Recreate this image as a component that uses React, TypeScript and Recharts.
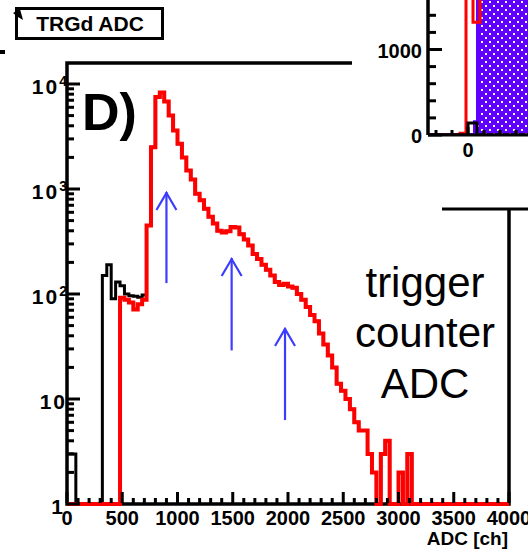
import React from 'react';
import { ComposedChart, Line, Area, XAxis, YAxis, ReferenceLine } from 'recharts';

// ---------- main histogram data (40 ADC channels per bin, bins start at 0) ----------
const BIN_WIDTH = 40;
const X_MAX = 4000;
const Y_MIN = 1;
const Y_MAX = 15849;

// red histogram counts, 100 bins of 40 ch from 0 to 4000
const redCounts = [
  0, 0, 0, 0, 0, 0, 0, 0, 0, 0, 0, 0,
  92, 88, 83, 71, 80, 88,
  450, 2500, 7500, 8300, 6800, 5000, 3600, 2700, 2000, 1500, 1230, 900,
  780, 650, 545, 470, 400, 385, 395, 435, 430, 370,
  330, 290, 240, 215, 190, 170, 150, 130, 122, 125,
  118, 115, 100, 88, 75, 63, 55, 42, 33, 26,
  20, 14, 12, 10, 8, 6, 5, 5, 3, 2,
  0, 3, 4, 0, 0, 2, 0, 3, 0,
  0, 0, 0, 0, 0, 0, 0, 0, 0, 0, 0, 0, 0, 0, 0, 0, 0, 0, 0, 0, 0,
];
// black histogram counts for the first 18 bins; above 720 ch it coincides with red
const blackCountsLow = [3, 3, 0, 0, 0, 0, 0, 0, 150, 190, 90, 130, 120, 100, 96, 95, 93, 98];

const xMinorStep = 100;
const yDecades = [1, 10, 100, 1000, 10000];

// arrows: channel, bottom value, tip value
const arrows = [
  { ch: 900, from: 127, to: 936 },
  { ch: 1490, from: 29, to: 220 },
  { ch: 1973, from: 6.3, to: 47.5 },
];

// ---------- inset data ----------
const insetX = [-40, -8, -2, 0, 5, 7, 9, 10, 12, 60];
const insetRed = [0, 20, 2500, 2500, 1320, 1320, 1320, 1320, 2500, 2500];
const insetBlack = [0, 0, 0, 140, 140, 140, 0, 0, 0, 0];
const insetPurple = [0, 0, 0, 0, 0, 150, 150, 2500, 2500, 2500];
const insetYTicks = [0, 200, 400, 600, 800, 1000, 1200, 1400];
const insetXTicks = [-32, -16, 0, 16, 32, 48];
const INSET_Y_MAX = 1579;

// ---------- derived tables ----------
const mainData = redCounts.map((r, i) => ({
  ch: i * BIN_WIDTH,
  red: Math.max(r, Y_MIN),
  black: Math.max(i < blackCountsLow.length ? blackCountsLow[i] : r, Y_MIN),
}));
mainData.push({ ch: X_MAX, red: mainData[mainData.length - 1].red, black: mainData[mainData.length - 1].black });

const xTicks: number[] = [];
for (let v = 0; v <= X_MAX; v += xMinorStep) xTicks.push(v);
const yTicks: number[] = [];
yDecades.forEach((d) => {
  for (let m = 1; m <= 9; m++) {
    const v = d * m;
    if (v <= Y_MAX) yTicks.push(v);
  }
});

const insetData = insetX.map((x, i) => ({ x, red: insetRed[i], black: insetBlack[i], purple: insetPurple[i] }));

const FONT = '"Liberation Sans", Arial, Helvetica, sans-serif';
const RED = '#ff0000';
const PURPLE = '#6000ff';
const ARROW = '#3c3cff';
const PLOT_LEFT = 67;
const PLOT_RIGHT = 509;
const PLOT_TOP = 63;
const PLOT_BOTTOM = 504;

const MainYTick = (props: any) => {
  const { y, payload } = props;
  const v = payload.value as number;
  const exp = Math.round(Math.log10(v));
  const major = Math.abs(Math.pow(10, exp) - v) < 1e-6;
  let label: React.ReactNode = null;
  if (major) {
    if (exp === 0) label = '1';
    else if (exp === 1) label = '10';
    else
      label = (
        <>
          10
          <tspan dy={-8} fontSize={14} letterSpacing={0}>
            {exp}
          </tspan>
        </>
      );
  }
  return (
    <g>
      <line x1={PLOT_LEFT} x2={PLOT_LEFT + (major ? 13 : 7)} y1={y} y2={y} stroke="#000" strokeWidth={3} />
      {major && (
        <text
          x={exp === 0 ? 63 : 67}
          y={y + 10}
          textAnchor="end"
          fontFamily={FONT}
          fontWeight="bold"
          fontSize={21}
          letterSpacing={exp === 0 ? 0 : 2}
          fill="#000"
        >
          {label}
        </text>
      )}
    </g>
  );
};

const MainXTick = (props: any) => {
  const { x, payload } = props;
  const v = payload.value as number;
  const major = v % 500 === 0;
  return (
    <g>
      <line x1={x} x2={x} y1={PLOT_BOTTOM - 1} y2={PLOT_BOTTOM - (major ? 12 : 6)} stroke="#000" strokeWidth={3} />
      {major && (
        <text x={x} y={525} textAnchor="middle" fontFamily={FONT} fontWeight="bold" fontSize={20} fill="#000">
          {v}
        </text>
      )}
    </g>
  );
};

const InsetYTick = (props: any) => {
  const { y, payload } = props;
  const v = payload.value as number;
  const major = v % 1000 === 0;
  return (
    <g>
      <line x1={76} x2={76 + (major ? 14 : 8)} y1={y} y2={y} stroke="#000" strokeWidth={3} />
      {major && (
        <text x={70} y={y + 8} textAnchor="end" fontFamily={FONT} fontWeight="bold" fontSize={20} fill="#000">
          {v}
        </text>
      )}
    </g>
  );
};

const InsetXTick = (props: any) => {
  const { x, payload } = props;
  const v = payload.value as number;
  const major = v === 0;
  return (
    <g>
      <line x1={x} x2={x} y1={135} y2={135 - (major ? 8 : 5)} stroke="#000" strokeWidth={3} />
      {major && (
        <text x={x} y={157} textAnchor="middle" fontFamily={FONT} fontWeight="bold" fontSize={20} fill="#000">
          {v}
        </text>
      )}
    </g>
  );
};

const ArrowShape = (p: any) => {
  const { x1, y1, x2, y2 } = p;
  if (x1 == null || y2 == null) return <g />;
  return (
    <g>
      <line x1={x1} y1={y1} x2={x2} y2={y2} stroke={ARROW} strokeWidth={2.2} />
      <polyline
        points={`${x2 - 10},${y2 + 18} ${x2},${y2 + 1} ${x2 + 10},${y2 + 18}`}
        fill="none"
        stroke={ARROW}
        strokeWidth={2.2}
      />
    </g>
  );
};

export default function App() {
  return (
    <div
      style={{
        position: 'absolute',
        left: 0,
        top: 0,
        width: 528,
        height: 550,
        overflow: 'hidden',
        background: '#fff',
        fontFamily: FONT,
      }}
    >
      <svg width={0} height={0} style={{ position: 'absolute' }}>
        <defs>
          <pattern id="purpleDots" width={8} height={8} patternUnits="userSpaceOnUse">
            <rect width={8} height={8} fill={PURPLE} />
            <rect x={1} y={1} width={2} height={2} fill="#fff" />
            <rect x={5} y={5} width={2} height={2} fill="#fff" />
          </pattern>
        </defs>
      </svg>

      {/* frame of the main pad, drawn behind the histograms */}
      <svg width={528} height={550} style={{ position: 'absolute', left: 0, top: 0 }}>
        <rect
          x={PLOT_LEFT}
          y={PLOT_TOP}
          width={PLOT_RIGHT - PLOT_LEFT}
          height={PLOT_BOTTOM - PLOT_TOP}
          fill="none"
          stroke="#000"
          strokeWidth={3.5}
        />
      </svg>

      {/* main chart */}
      <div style={{ position: 'absolute', left: 0, top: 0 }}>
        <ComposedChart width={528} height={550} data={mainData} margin={{ top: 63, right: 19, bottom: 0, left: 0 }}>
          <XAxis
            dataKey="ch"
            type="number"
            domain={[0, X_MAX]}
            ticks={xTicks}
            interval={0}
            height={46}
            axisLine={false}
            tickLine={false}
            tick={<MainXTick />}
          />
          <YAxis
            type="number"
            scale="log"
            domain={[Y_MIN, Y_MAX]}
            ticks={yTicks}
            interval={0}
            width={67}
            axisLine={false}
            tickLine={false}
            tick={<MainYTick />}
          />
          <Line
            type="stepAfter"
            dataKey="black"
            stroke="#000"
            strokeWidth={3}
            dot={false}
            activeDot={false}
            isAnimationActive={false}
          />
          <Line
            type="stepAfter"
            dataKey="red"
            stroke={RED}
            strokeWidth={4}
            dot={false}
            activeDot={false}
            isAnimationActive={false}
          />
          {arrows.map((a, i) => (
            <ReferenceLine
              key={i}
              segment={[
                { x: a.ch, y: a.from },
                { x: a.ch, y: a.to },
              ]}
              stroke={ARROW}
              ifOverflow="visible"
              shape={ArrowShape}
            />
          ))}
        </ComposedChart>
      </div>

      {/* inset */}
      <div style={{ position: 'absolute', left: 352, top: 0, width: 176, height: 209, background: '#fff' }}>
        <ComposedChart width={176} height={209} data={insetData} margin={{ top: 0, right: 0, bottom: 0, left: 0 }}>
          <XAxis
            dataKey="x"
            type="number"
            domain={[-40, 60]}
            ticks={insetXTicks}
            interval={0}
            height={74}
            allowDataOverflow
            axisLine={{ stroke: '#000', strokeWidth: 3 }}
            tickLine={false}
            tick={<InsetXTick />}
          />
          <YAxis
            type="number"
            domain={[0, INSET_Y_MAX]}
            ticks={insetYTicks}
            interval={0}
            width={76}
            allowDataOverflow
            axisLine={{ stroke: '#000', strokeWidth: 3.5 }}
            tickLine={false}
            tick={<InsetYTick />}
          />
          <Line
            type="stepAfter"
            dataKey="red"
            stroke={RED}
            strokeWidth={3}
            dot={false}
            activeDot={false}
            isAnimationActive={false}
          />
          <Line
            type="stepAfter"
            dataKey="black"
            stroke="#000"
            strokeWidth={3}
            dot={false}
            activeDot={false}
            isAnimationActive={false}
          />
          <Area
            type="stepAfter"
            dataKey="purple"
            stroke={PURPLE}
            strokeWidth={4}
            fill="url(#purpleDots)"
            fillOpacity={1}
            dot={false}
            activeDot={false}
            isAnimationActive={false}
          />
        </ComposedChart>
      </div>

      {/* annotations */}
      <svg
        width={528}
        height={550}
        style={{ position: 'absolute', left: 0, top: 0, pointerEvents: 'none' }}
        fontFamily={FONT}
      >
        <rect x={16.5} y={8.5} width={146} height={30} fill="#fff" stroke="#000" strokeWidth={3} />
        <polygon points="13,13 20,9 23,20 18,17" fill="#000" />
        <text x={90} y={31} textAnchor="middle" fontWeight="bold" fontSize={21} fill="#000">
          TRGd ADC
        </text>
        <rect x={0} y={50} width={5} height={4} fill="#000" />
        <text x={82} y={130} fontWeight="bold" fontSize={52} fill="#000">
          D)
        </text>
        <text textAnchor="middle" fontSize={42} fill="#000">
          <tspan x={425} y={297}>trigger</tspan>
          <tspan x={425} y={347}>counter</tspan>
          <tspan x={425} y={398}>ADC</tspan>
        </text>
        <text x={508} y={545} textAnchor="end" fontWeight="bold" fontSize={19} fill="#000">
          ADC [ch]
        </text>
        <line x1={442} x2={528} y1={209} y2={209} stroke="#000" strokeWidth={3} />
      </svg>
    </div>
  );
}
